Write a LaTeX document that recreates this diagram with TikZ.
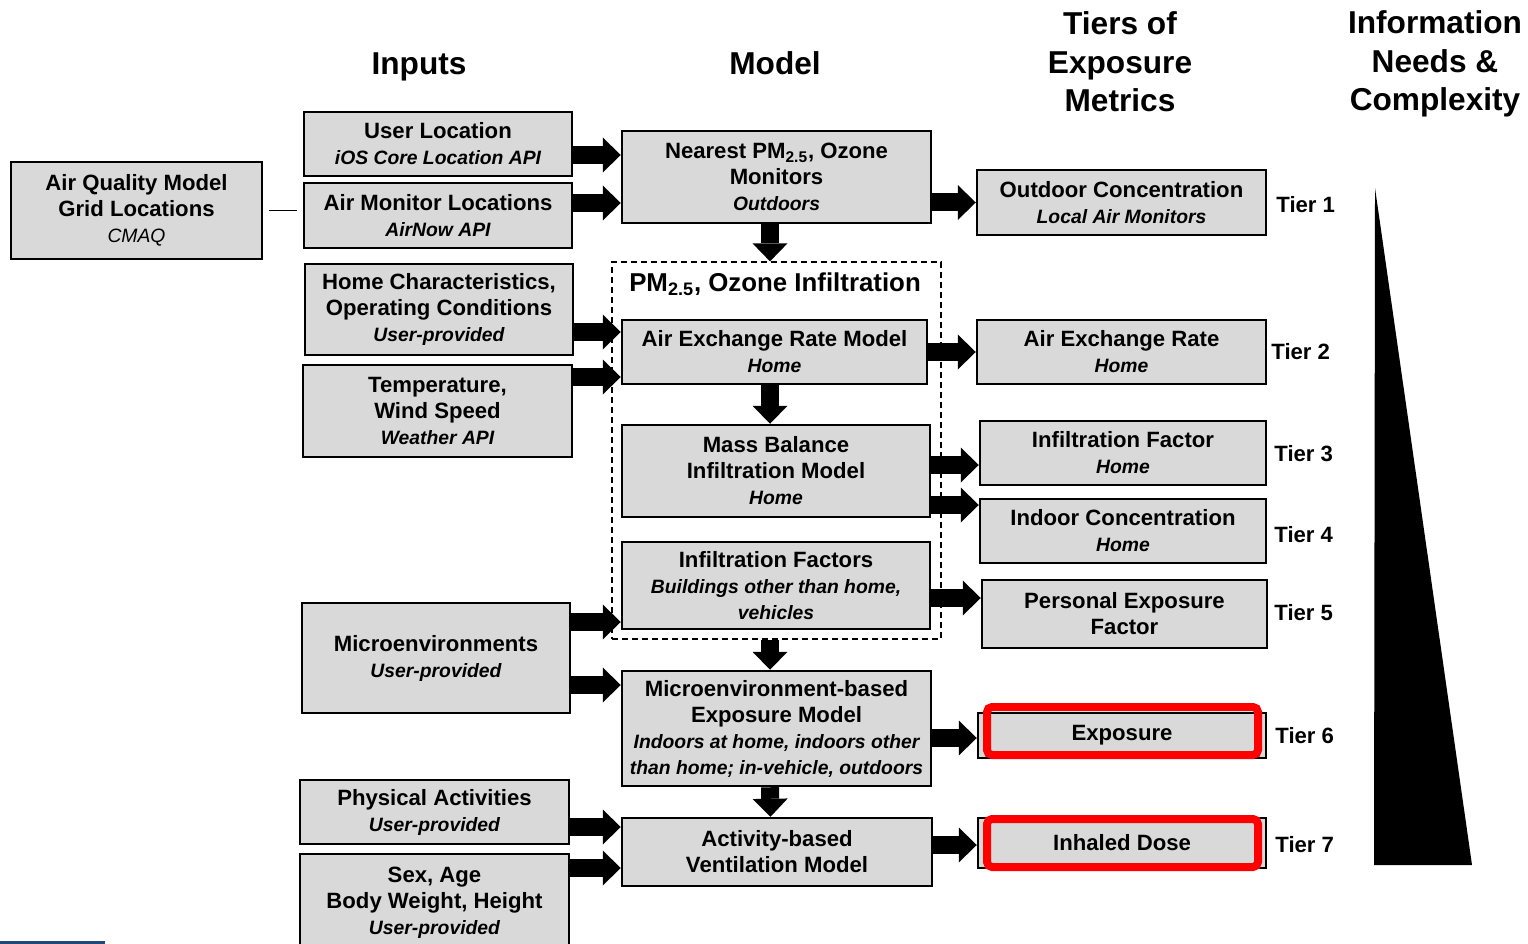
\documentclass[tikz,border=0pt]{standalone}
\usepackage{fontspec}
\setmainfont{Liberation Sans}
\usetikzlibrary{arrows.meta,calc}
\definecolor{panel}{RGB}{217,217,217}
\definecolor{alert}{RGB}{255,0,0}
\definecolor{navy}{RGB}{31,73,125}
\tikzset{
  box/.style 2 args={draw=black,line width=0.5mm,fill=panel,inner sep=0pt,
    minimum width=#1*0.2mm,minimum height=#2*0.2mm,align=center,
    font=\fontsize{12.6}{14.8}\selectfont\bfseries},
  group/.style 2 args={draw=black,line width=0.25mm,dash pattern=on 1.2mm off 0.8mm,
    inner sep=0pt,minimum width=#1*0.2mm,minimum height=#2*0.2mm},
  fat/.style={line width=3.6mm,-{Triangle[length=3.6mm,width=7mm,line width=0pt 0]}},
  link/.style={line width=0.35mm,shorten <=1.2mm,shorten >=1.2mm},
  heading/.style={font=\fontsize{18}{22}\selectfont\bfseries,align=center},
  tier/.style={anchor=west,inner sep=0pt,font=\fontsize{12.6}{14.8}\selectfont\bfseries},
  hilite/.style={draw=alert,line width=1.6mm,rounded corners=1mm},
}
\newcommand{\apisrc}[1]{{\fontsize{11}{14.8}\selectfont\itshape #1}}

\begin{document}
\begin{tikzpicture}[x=0.2mm,y=-0.2mm]
  \useasboundingbox (0,0) rectangle (1528,944);
  % column headings
  \node[heading,anchor=base] (hin) at (419,74.5) {Inputs};
  \node[heading,anchor=base] (hmod) at (775,74.5) {Model};
  \node[heading] (htier) at (1120,62) {Tiers of\\Exposure\\Metrics};
  \node[heading] (hinfo) at (1435,64) {Information\\Needs \&\\Complexity};
  % inputs
  \node[box={251}{97}] (aq) at (136.5,210.5) {Air Quality Model\\Grid Locations\\{\mdseries\apisrc{CMAQ}}};
  \node[box={268}{64}] (uloc) at (438,144) {User Location\\\apisrc{iOS Core Location API}};
  \node[box={268}{65}] (amon) at (438,215.5) {Air Monitor Locations\\\apisrc{AirNow API}};
  \node[box={268}{91}] (home) at (439,309.5) {Home Characteristics,\\Operating Conditions\\\apisrc{User-provided}};
  \node[box={269}{92}] (temp) at (437.5,411) {Temperature,\\Wind Speed\\\apisrc{Weather API}};
  \node[box={268}{110}] (micro) at (436,658) {Microenvironments\\\apisrc{User-provided}};
  \node[box={269}{64}] (phys) at (434.5,812) {Physical Activities\\\apisrc{User-provided}};
  \node[box={269}{98}] (body) at (434.5,903) {Sex, Age\\Body Weight, Height\\\apisrc{User-provided}};
  % model
  \node[box={309}{92}] (near) at (776.5,177) {Nearest PM\textsubscript{2.5}, Ozone\\Monitors\\\apisrc{Outdoors}};
  \node[group={329}{377}] (infil) at (776.5,450.5) {};
  \node[font=\fontsize{14.7}{17}\selectfont\bfseries] (infiltitle) at (775,284) {PM\textsubscript{2.5}, Ozone Infiltration};
  \node[box={305}{64}] (aerm) at (774.5,352) {Air Exchange Rate Model\\\apisrc{Home}};
  \node[box={308}{92}] (mass) at (776,471) {Mass Balance\\Infiltration Model\\\apisrc{Home}};
  \node[box={308}{87}] (ifac) at (776,585.5) {Infiltration Factors\\\apisrc{Buildings other than home,}\\\apisrc{vehicles}};
  \node[box={309}{115}] (mexp) at (776.5,728.5) {Microenvironment-based\\Exposure Model\\\apisrc{Indoors at home, indoors other}\\\apisrc{than home; in-vehicle, outdoors}};
  \node[box={310}{68}] (vent) at (777,852) {Activity-based\\Ventilation Model};
  % tiers
  \node[box={289}{65}] (outc) at (1121.5,202.5) {Outdoor Concentration\\\apisrc{Local Air Monitors}};
  \node[box={289}{64}] (aer) at (1121.5,352) {Air Exchange Rate\\\apisrc{Home}};
  \node[box={286}{64}] (inff) at (1123,453) {Infiltration Factor\\\apisrc{Home}};
  \node[box={286}{64}] (indc) at (1123,531) {Indoor Concentration\\\apisrc{Home}};
  \node[box={285}{68}] (pexf) at (1124.5,614) {Personal Exposure\\Factor};
  \node[box={288}{45}] (expo) at (1122,735.5) {Exposure};
  \node[box={288}{50}] (dose) at (1122,843) {Inhaled Dose};
  \draw[hilite] (987,707) rectangle (1258,755);
  \draw[hilite] (987,819) rectangle (1258,867);
  \node[tier] (t1) at (1276,205) {Tier 1};
  \node[tier] (t2) at (1271,352) {Tier 2};
  \node[tier] (t3) at (1274,454) {Tier 3};
  \node[tier] (t4) at (1274,535) {Tier 4};
  \node[tier] (t5) at (1274,613) {Tier 5};
  \node[tier] (t6) at (1275,736) {Tier 6};
  \node[tier] (t7) at (1275,845) {Tier 7};
  % complexity wedge
  \fill[black] (1375,188) -- (1472,865) -- (1374,865) -- cycle;
  % connectors
  \draw[link] (aq.east) -- (aq.east -| amon.west);
  \draw[fat] ([yshift=-2.2mm]uloc.east) -- ([yshift=-2.2mm]uloc.east -| near.west);
  \draw[fat] ([yshift=2.5mm]amon.east) -- ([yshift=2.5mm]amon.east -| near.west);
  \draw[fat] (near.east |- outc.west) -- (outc.west);
  \draw[fat] ([xshift=-1.3mm]near.south) -- ([xshift=-1.3mm]infil.north);
  \draw[fat] ([yshift=-4.5mm]home.east) -- ([yshift=-4.5mm]home.east -| aerm.west);
  \draw[fat] ([yshift=6.8mm]temp.east) -- ([yshift=6.8mm]temp.east -| aerm.west);
  \draw[fat] (aerm.east) -- (aer.west);
  \draw[fat] ([xshift=-0.9mm]aerm.south) -- ([xshift=-0.9mm]aerm.south |- mass.north);
  \draw[fat] ([yshift=1.2mm]mass.east) -- ([yshift=1.2mm]mass.east -| inff.west);
  \draw[fat] ([yshift=-6.8mm]mass.east) -- ([yshift=-6.8mm]mass.east -| indc.west);
  \draw[fat] ([yshift=-2.5mm]ifac.east) -- ([yshift=-2.5mm]ifac.east -| pexf.west);
  \draw[fat] ([yshift=7.2mm]micro.east) -- ([yshift=7.2mm]micro.east -| ifac.west);
  \draw[fat] ([yshift=-5.4mm]micro.east) -- ([yshift=-5.4mm]micro.east -| mexp.west);
  \draw[fat] ([xshift=-1.3mm]infil.south) -- ([xshift=-1.3mm]mexp.north);
  \draw[fat] ([yshift=-1.9mm]mexp.east) -- ([yshift=-1.9mm]mexp.east -| expo.west);
  \draw[fat] ([xshift=-1.3mm]mexp.south) -- ([xshift=-1.3mm]vent.north);
  \draw[fat] ([yshift=-3mm]phys.east) -- ([yshift=-3mm]phys.east -| vent.west);
  \draw[fat] ([yshift=7mm]body.east) -- ([yshift=7mm]body.east -| vent.west);
  \draw[fat] ([yshift=1.4mm]vent.east) -- ([yshift=1.4mm]vent.east -| dose.west);
  % corner rule
  \fill[navy] (0,941) rectangle (105,944);
\end{tikzpicture}
\end{document}
